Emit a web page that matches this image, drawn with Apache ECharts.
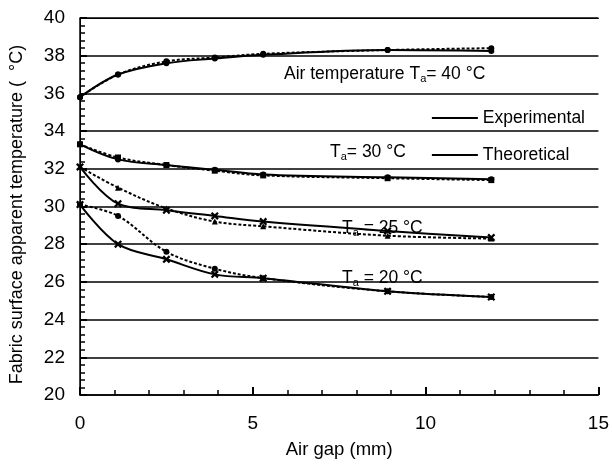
<!DOCTYPE html>
<html>
<head>
<meta charset="utf-8">
<script src="https://cdn.jsdelivr.net/npm/echarts@6/dist/echarts.min.js"></script>
<style>
  html, body { margin: 0; padding: 0; background: #fff; }
  #main { width: 612px; height: 464px; }
</style>
</head>
<body>
<div id="main"></div>
<script>
// air gap (mm)
var gap = [0, 1.1, 2.5, 3.9, 5.3, 8.9, 11.9];

// theoretical (solid) and experimental (dotted) curves
var theo40 = [35.8, 37.0, 37.6, 37.85, 38.05, 38.3, 38.25];
var exp40  = [35.8, 37.0, 37.7, 37.9, 38.1, 38.3, 38.4];
var theo30 = [33.3, 32.5, 32.2, 31.95, 31.7, 31.55, 31.45];
var exp30  = [33.3, 32.6, 32.2, 31.9, 31.65, 31.5, 31.4];
var theo25 = [32.1, 30.15, 29.8, 29.5, 29.2, 28.7, 28.35];
var exp25  = [32.1, 31.0, 29.9, 29.2, 28.95, 28.45, 28.3];
var theo20 = [30.1, 28.0, 27.2, 26.4, 26.2, 25.5, 25.2];
var exp20  = [30.1, 29.5, 27.6, 26.7, 26.2, 25.5, 25.2];

var font = 'Liberation Sans, Arial, sans-serif';
var cross = 'path://M0,2 L2,0 L5,3 L8,0 L10,2 L7,5 L10,8 L8,10 L5,7 L2,10 L0,8 L3,5 Z';

function pairs(ys) {
  return gap.map(function (x, i) { return [x, ys[i]]; });
}

function line(name, ys, dotted, symbol) {
  return {
    name: name,
    type: 'line',
    data: pairs(ys),
    smooth: 0.35,
    symbol: symbol,
    symbolSize: symbol === cross ? 8 : 6,
    color: '#000',
    itemStyle: { color: '#000' },
    lineStyle: { color: '#000', width: 2, type: dotted ? [3, 2] : 'solid' },
    z: dotted ? 3 : 4
  };
}

var chart = echarts.init(document.getElementById('main'));

var rich = { sub: { fontSize: 11, fontFamily: font, color: '#000', padding: [9, 0, 0, 0] } };

function label(x, y, text) {
  return {
    type: 'text',
    left: x,
    top: y,
    style: { text: text, fontSize: 17.5, fontFamily: font, fill: '#000', rich: rich }
  };
}

// plain frame line for top / right
function frame(min, max, pos) {
  return {
    type: 'value', min: min, max: max, position: pos,
    axisLine: { show: true, lineStyle: { color: '#000', width: 1 } },
    axisTick: { show: false }, axisLabel: { show: false }, splitLine: { show: false }
  };
}

chart.setOption({
  animation: false,
  backgroundColor: '#fff',
  grid: { left: 76, right: 11, top: 18, bottom: 67 },
  legend: {
    data: ['Experimental', 'Theoretical'],
    orient: 'vertical',
    right: 22,
    top: 104,
    itemGap: 19,
    icon: 'rect',
    itemWidth: 46,
    itemHeight: 2,
    textStyle: { fontSize: 17.5, fontFamily: font, color: '#000' }
  },
  xAxis: [{
    type: 'value',
    min: 0,
    max: 15,
    interval: 5,
    name: 'Air gap (mm)',
    nameLocation: 'middle',
    nameGap: 45,
    nameTextStyle: { fontSize: 18.5, fontFamily: font, color: '#000' },
    axisLine: { show: true, lineStyle: { color: '#000', width: 1.5 } },
    axisTick: { show: true, inside: true, length: 8, lineStyle: { color: '#000', width: 2 } },
    minorTick: { show: true, splitNumber: 5, length: 5, lineStyle: { color: '#000', width: 1.5 } },
    axisLabel: { fontSize: 19, fontFamily: font, color: '#000', margin: 19 },
    splitLine: { show: false }
  }, frame(0, 15, 'top')],
  yAxis: [{
    type: 'value',
    min: 20,
    max: 40,
    interval: 2,
    name: 'Fabric surface apparent temperature (  \u00B0C)',
    nameLocation: 'middle',
    nameGap: 54,
    nameTextStyle: { fontSize: 18, fontFamily: font, color: '#000', padding: [0, 16, 0, 0] },
    axisLine: { show: true, lineStyle: { color: '#000', width: 1.5 } },
    axisTick: { show: true, inside: true, length: 7, lineStyle: { color: '#000', width: 2 } },
    minorTick: { show: true, splitNumber: 5, length: 5, lineStyle: { color: '#000', width: 1.5 } },
    axisLabel: { fontSize: 19, fontFamily: font, color: '#000', margin: 15 },
    splitLine: { show: true, lineStyle: { color: '#000', width: 1.5 } }
  }, frame(20, 40, 'right')],
  series: [
    line('Theoretical', theo40, false, 'circle'),
    line('Experimental', exp40, true, 'circle'),
    line('Theoretical', theo30, false, 'circle'),
    line('Experimental', exp30, true, 'rect'),
    line('Theoretical', theo25, false, cross),
    line('Experimental', exp25, true, 'triangle'),
    line('Theoretical', theo20, false, cross),
    line('Experimental', exp20, true, 'circle')
  ],
  graphic: [
    label(284, 65, 'Air temperature T{sub|a}= 40 \u00B0C'),
    label(330, 143, 'T{sub|a}= 30 \u00B0C'),
    label(342, 219, 'T{sub|a} = 25 \u00B0C'),
    label(342, 269, 'T{sub|a} = 20 \u00B0C')
  ]
});
</script>
</body>
</html>
